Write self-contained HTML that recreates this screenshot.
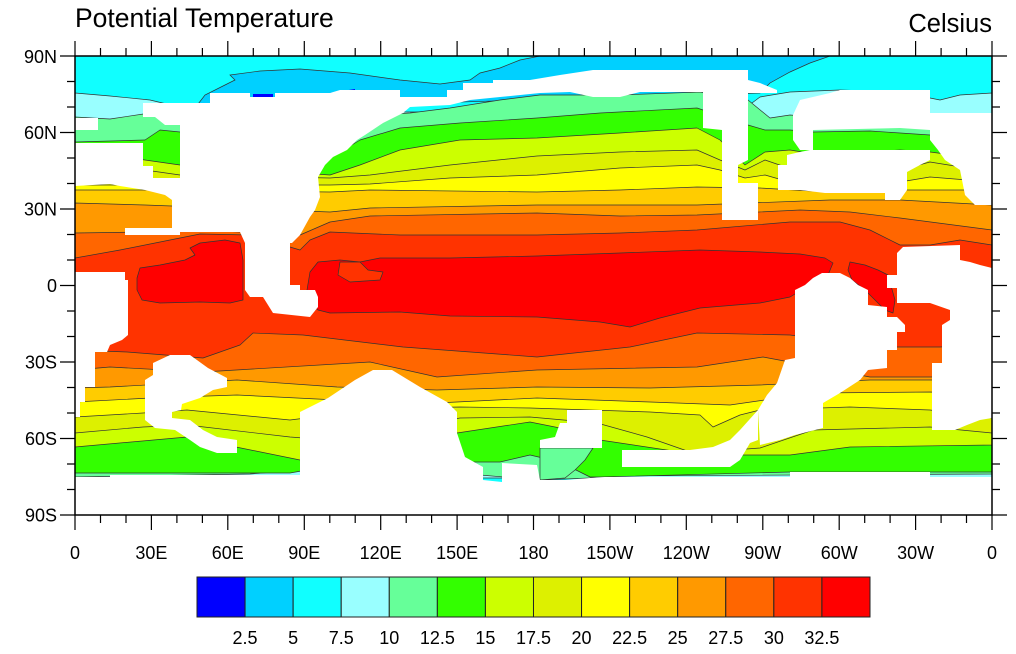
<!DOCTYPE html>
<html><head><meta charset="utf-8"><style>
html,body{margin:0;padding:0;background:#fff;}
svg{display:block;}
text{font-family:"Liberation Sans",Arial,sans-serif;fill:#000;}
</style></head><body>
<svg width="1016" height="654" viewBox="0 0 1016 654" xmlns="http://www.w3.org/2000/svg">
<defs><clipPath id="pc"><rect x="75" y="56" width="917" height="459"/></clipPath></defs>
<g clip-path="url(#pc)">
<rect x="75" y="56" width="917" height="459" fill="#10ffff"/>
<polygon fill="#00d0ff" stroke="#333" stroke-width="0.7" points="195,108 205,95 225,85 235,80 230,75 260,71 300,69 350,73 400,80 440,84 470,80 480,73 500,68 520,60 540,56 830,56 810,63 790,72 770,83 760,93 195,110"/>
<polygon fill="#0000ff" points="253,94 273,94 273,98 253,98"/>
<polygon fill="#0000ff" points="330,93 355,89 355,93"/>
<g stroke="#333" stroke-width="0.7" stroke-linejoin="round">
<polygon fill="#99ffff" points="75,93 110,96 150,100 200,112 740,112 760,97 790,92 840,90 900,92 940,100 960,95 992,93 992,478 75,478"/>
<polygon fill="#66ff99" points="75,117 110,119 150,113 180,120 330,118 410,113 450,108 500,100 540,95 620,95 700,92 748,100 770,118 790,115 850,120 930,125 992,125 992,474 600,476 590,478 540,480 480,475 450,470 300,470 250,474 75,477"/>
<polygon fill="#33ff00" points="75,142 145,140 160,130 180,132 300,140 335,155 360,140 400,128 460,123 537,118 600,113 697,108 748,125 765,130 790,130 813,132 870,131 930,135 960,148 992,150 992,472 930,472 790,472 600,477 590,477 560,462 530,455 500,462 460,462 330,466 290,473 75,473"/>
<polygon fill="#ccff00" points="75,150 145,160 180,165 330,175 360,165 400,150 460,140 537,138 620,133 697,128 720,140 745,165 765,152 790,150 820,155 900,150 930,152 992,160 992,445 850,447 790,455 700,455 600,440 560,428 530,422 457,433 330,455 300,460 187,437 75,447"/>
<polygon fill="#ddf000" points="75,165 145,170 180,175 330,178 370,175 450,165 537,156 620,152 697,150 720,160 745,170 765,160 800,172 900,170 930,162 992,172 992,433 930,427 813,430 760,448 693,453 647,437 597,423 530,417 460,418 400,430 330,440 290,437 187,425 143,427 75,433"/>
<polygon fill="#ffff00" points="75,185 145,185 330,185 370,184 450,178 537,175 620,168 697,165 720,170 745,178 765,175 800,185 900,182 930,177 992,182 992,418 930,410 850,407 760,410 740,415 713,427 700,415 650,412 530,408 460,407 400,408 330,415 290,420 187,410 143,413 75,417"/>
<polygon fill="#ffcc00" points="75,190 145,190 330,192 370,190 537,192 620,190 697,187 760,188 830,192 900,190 992,190 992,395 930,392 813,393 730,405 650,402 537,398 437,403 337,400 237,395 150,398 75,402"/>
<polygon fill="#ff9900" points="75,203 145,205 330,212 370,208 537,205 620,205 697,205 830,200 900,200 992,205 992,380 870,380 760,385 650,388 537,387 437,390 337,387 237,380 110,387 75,388"/>
<polygon fill="#ff6600" points="75,233 145,232 200,230 300,235 330,222 370,216 537,213 620,216 697,215 800,210 850,212 900,218 992,230 992,377 930,377 870,377 763,357 697,367 537,370 437,377 370,362 203,372 110,367 75,370"/>
<polygon fill="#ff3300" points="75,258 120,250 170,240 200,234 250,235 300,250 310,240 330,232 400,235 537,235 620,233 697,230 790,222 840,222 870,230 900,245 930,245 960,240 992,245 992,345 940,347 880,347 790,335 697,333 630,347 537,357 403,347 303,335 253,333 240,345 203,358 127,352 75,350"/>
<polygon fill="#ff0000" points="307,290 310,272 318,262 340,260 360,262 380,258 450,258 537,256 620,253 700,250 760,252 800,254 825,258 833,263 828,275 810,285 790,297 760,303 700,308 660,318 630,327 600,322 537,317 450,316 400,312 330,313 318,310 308,300"/>
<polygon fill="#ff3300" points="340,262 360,262 368,270 383,272 380,280 350,282 338,275"/>
<polygon fill="#ff0000" points="137,278 140,268 160,265 185,260 195,255 190,248 200,243 225,240 240,243 243,260 243,300 230,303 200,302 160,303 142,300 137,290"/>
<polygon fill="#ff0000" points="850,262 865,265 878,270 888,275 895,300 893,313 885,310 875,300 865,290 852,280 848,270"/>
<polygon fill="#66ff99" points="540,448 593,448 585,460 575,470 565,478 540,480"/>
</g>
<g fill="#fff">
<polygon points="143,103 210,103 210,93 250,93 250,97 275,97 275,93 330,93 340,90 400,90 400,97 447,97 447,90 463,90 463,83 493,83 493,80 530,80 560,75 593,70 748,70 748,80 760,83 777,90 777,93 748,93 703,92 640,92 620,97 593,97 570,92 540,93 500,97 470,100 450,105 410,107 403,113 383,123 365,135 357,140 347,150 333,157 325,165 318,177 320,197 315,210 310,217 300,235 292,243 290,243 245,243 240,232 180,232 180,103"/>
<polygon points="143,103 180,103 180,125 165,125 155,117 143,117"/>
<polygon points="75,143 143,143 143,166 153,166 153,178 180,178 180,232 172,232 172,200 165,195 145,190 120,186 110,184 75,186"/>
<polygon points="125,228 180,228 180,235 125,235"/>
<polygon points="75,118 98,118 98,130 75,130"/>
<polygon points="703,90 748,90 748,160 738,165 738,183 758,183 758,220 722,220 722,130 703,128"/>
<polygon points="793,115 800,100 830,93 840,90 930,90 930,113 992,113 992,205 975,205 965,195 960,170 945,160 938,150 930,140 930,130 900,128 813,130 813,150 800,150 793,140"/>
<polygon points="810,150 930,150 930,160 920,165 907,172 907,190 900,200 885,200 885,193 825,193 800,190 778,190 778,165 787,165 787,155 800,152"/>
<polygon points="75,272 125,272 125,280 128,280 128,335 122,340 110,345 107,352 95,352 95,387 85,387 85,402 80,402 80,417 75,417"/>
<polygon points="245,243 290,243 290,285 300,285 300,290 315,290 318,297 318,307 310,317 273,313 263,297 250,297 245,290"/>
<polygon points="153,363 170,355 190,355 208,368 227,378 227,387 213,390 200,398 182,404 181,410 172,412 172,418 190,420 203,430 217,437 237,440 237,453 217,453 200,447 190,440 175,430 155,428 145,420 145,380 153,375"/>
<polygon points="300,412 328,398 355,380 373,370 392,370 420,387 447,402 457,412 457,433 465,457 470,475 300,475"/>
<polygon points="567,410 602,410 602,448 540,448 540,440 555,437 560,423 567,423"/>
<polygon points="622,450 690,450 713,447 730,440 740,430 758,410 758,440 750,443 740,460 730,467 622,467"/>
<polygon points="795,290 805,285 813,278 822,273 840,273 850,278 858,285 868,290 868,305 887,307 887,317 897,317 905,325 905,332 897,332 897,350 887,350 887,368 868,370 860,380 840,393 823,403 823,428 795,435 780,440 760,445 758,410 767,395 777,383 785,360 795,358"/>
<polygon points="887,275 897,275 897,253 903,247 960,245 960,260 970,262 980,265 992,268 992,418 980,420 967,425 955,430 932,430 932,363 942,363 942,325 950,320 950,310 930,303 897,303 897,288 887,288"/>
<polygon points="75,477 110,477 110,475 330,475 460,473 465,457 483,467 483,480 502,482 502,463 537,465 540,480 565,480 590,478 605,477 790,477 790,472 930,472 930,477 992,477 992,515 75,515"/>
</g>
</g>
<rect x="75" y="56" width="917" height="459" fill="none" stroke="#000" stroke-width="1.5"/>
<g stroke="#000" stroke-width="1.2">
<path d="M75,56V41M151.4,56V41M227.8,56V41M304.3,56V41M380.7,56V41M457.1,56V41M533.5,56V41M609.9,56V41M686.3,56V41M762.8,56V41M839.2,56V41M915.6,56V41M992,56V41"/>
<path d="M100.5,56V48M126,56V48M176.9,56V48M202.4,56V48M253.3,56V48M278.8,56V48M329.8,56V48M355.2,56V48M406.2,56V48M431.6,56V48M482.6,56V48M508,56V48M559,56V48M584.4,56V48M635.4,56V48M660.9,56V48M711.8,56V48M737.3,56V48M788.3,56V48M813.7,56V48M864.7,56V48M890.1,56V48M941.1,56V48M966.5,56V48"/>
<path d="M75,515V530M151.4,515V530M227.8,515V530M304.3,515V530M380.7,515V530M457.1,515V530M533.5,515V530M609.9,515V530M686.3,515V530M762.8,515V530M839.2,515V530M915.6,515V530M992,515V530"/>
<path d="M100.5,515V523M126,515V523M176.9,515V523M202.4,515V523M253.3,515V523M278.8,515V523M329.8,515V523M355.2,515V523M406.2,515V523M431.6,515V523M482.6,515V523M508,515V523M559,515V523M584.4,515V523M635.4,515V523M660.9,515V523M711.8,515V523M737.3,515V523M788.3,515V523M813.7,515V523M864.7,515V523M890.1,515V523M941.1,515V523M966.5,515V523"/>
<path d="M75,56H60M75,132.5H60M75,209H60M75,285.5H60M75,362H60M75,438.5H60M75,515H60"/>
<path d="M75,81.5H67M75,107H67M75,158H67M75,183.5H67M75,234.5H67M75,260H67M75,311H67M75,336.5H67M75,387.5H67M75,413H67M75,464H67M75,489.5H67"/>
<path d="M992,56H1007M992,132.5H1007M992,209H1007M992,285.5H1007M992,362H1007M992,438.5H1007M992,515H1007"/>
<path d="M992,81.5H1000M992,107H1000M992,158H1000M992,183.5H1000M992,234.5H1000M992,260H1000M992,311H1000M992,336.5H1000M992,387.5H1000M992,413H1000M992,464H1000M992,489.5H1000"/>
</g>
<text x="75" y="27" font-size="26.5">Potential Temperature</text>
<text x="992" y="32" font-size="25.5" text-anchor="end">Celsius</text>
<g font-size="18" text-anchor="end">
<text x="57" y="63">90N</text><text x="57" y="139">60N</text><text x="57" y="215.5">30N</text><text x="57" y="292">0</text><text x="57" y="368.5">30S</text><text x="57" y="445">60S</text><text x="57" y="521.5">90S</text>
</g>
<g font-size="18" text-anchor="middle">
<text x="75" y="559">0</text><text x="151.4" y="559">30E</text><text x="227.8" y="559">60E</text><text x="304.3" y="559">90E</text><text x="380.7" y="559">120E</text><text x="457.1" y="559">150E</text><text x="533.5" y="559">180</text><text x="609.9" y="559">150W</text><text x="686.3" y="559">120W</text><text x="762.8" y="559">90W</text><text x="839.2" y="559">60W</text><text x="915.6" y="559">30W</text><text x="992" y="559">0</text>
</g>
<g stroke="#222" stroke-width="1">
<rect x="197" y="577" width="48.07" height="40" fill="#0000ff"/>
<rect x="245.07" y="577" width="48.07" height="40" fill="#00d0ff"/>
<rect x="293.14" y="577" width="48.07" height="40" fill="#10ffff"/>
<rect x="341.21" y="577" width="48.07" height="40" fill="#99ffff"/>
<rect x="389.28" y="577" width="48.07" height="40" fill="#66ff99"/>
<rect x="437.35" y="577" width="48.07" height="40" fill="#33ff00"/>
<rect x="485.42" y="577" width="48.07" height="40" fill="#ccff00"/>
<rect x="533.49" y="577" width="48.07" height="40" fill="#ddf000"/>
<rect x="581.56" y="577" width="48.07" height="40" fill="#ffff00"/>
<rect x="629.63" y="577" width="48.07" height="40" fill="#ffcc00"/>
<rect x="677.7" y="577" width="48.07" height="40" fill="#ff9900"/>
<rect x="725.77" y="577" width="48.07" height="40" fill="#ff6600"/>
<rect x="773.84" y="577" width="48.07" height="40" fill="#ff3300"/>
<rect x="821.91" y="577" width="48.09" height="40" fill="#ff0000"/>
</g>
<g font-size="18" text-anchor="middle">
<text x="245.07" y="644">2.5</text><text x="293.14" y="644">5</text><text x="341.21" y="644">7.5</text><text x="389.28" y="644">10</text><text x="437.35" y="644">12.5</text><text x="485.42" y="644">15</text><text x="533.49" y="644">17.5</text><text x="581.56" y="644">20</text><text x="629.63" y="644">22.5</text><text x="677.7" y="644">25</text><text x="725.77" y="644">27.5</text><text x="773.84" y="644">30</text><text x="821.91" y="644">32.5</text>
</g>
</svg>
</body></html>
